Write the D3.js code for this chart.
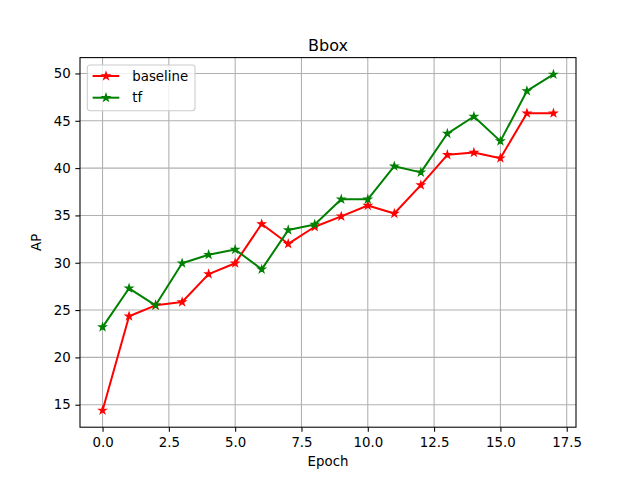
<!DOCTYPE html>
<html>
<head>
<meta charset="utf-8">
<script src="https://cdn.jsdelivr.net/npm/d3@7"></script>
<style>
  body { margin: 0; background: #fff; }
  svg { font-family: 'DejaVu Sans', sans-serif; }
</style>
</head>
<body>
<svg id="chart"></svg>
<script>
const w = 640;
const h = 480;
const margin = { left: 80, right: 64, top: 57.6, bottom: 52.8 };

const epochs = [0, 1, 2, 3, 4, 5, 6, 7, 8, 9, 10, 11, 12, 13, 14, 15, 16, 17];
const baseline = [14.4, 24.35, 25.5, 25.85, 28.8, 29.95, 34.1, 32.0, 33.8, 34.9, 36.05, 35.2, 38.2, 41.4, 41.65, 41.05, 45.8, 45.8];
const tf = [23.2, 27.3, 25.5, 29.95, 30.85, 31.4, 29.3, 33.45, 34.05, 36.7, 36.7, 40.2, 39.55, 43.65, 45.45, 42.85, 48.15, 49.9];
const xTicks = [0, 2.5, 5, 7.5, 10, 12.5, 15, 17.5];
const yTicks = [15, 20, 25, 30, 35, 40, 45, 50];

const series = [
	{ name: 'baseline', values: baseline, color: '#ff0000' },
	{ name: 'tf', values: tf, color: '#008000' },
];

const canvas = d3.select('#chart').attr('width', w).attr('height', h);

const allVals = baseline.concat(tf);
const yMin = d3.min(allVals);
const yMax = d3.max(allVals);
const yPad = (yMax - yMin) * 0.05;
const xPad = (d3.max(epochs) - d3.min(epochs)) * 0.05;

const xScale = d3
	.scaleLinear()
	.domain([d3.min(epochs) - xPad, d3.max(epochs) + xPad])
	.range([margin.left, w - margin.right]);

const yScale = d3
	.scaleLinear()
	.domain([yMin - yPad, yMax + yPad])
	.range([h - margin.bottom, margin.top]);

const tick = 3.5 * 4 / 3;

// grid
const grid = canvas.append('g').attr('stroke', '#b0b0b0').attr('stroke-width', 1.07);
grid.selectAll('.gx')
	.data(xTicks)
	.enter()
	.append('line')
	.attr('x1', (d) => xScale(d))
	.attr('x2', (d) => xScale(d))
	.attr('y1', margin.top)
	.attr('y2', h - margin.bottom);
grid.selectAll('.gy')
	.data(yTicks)
	.enter()
	.append('line')
	.attr('x1', margin.left)
	.attr('x2', w - margin.right)
	.attr('y1', (d) => yScale(d))
	.attr('y2', (d) => yScale(d));

// axes
const xAxis = d3
	.axisBottom(xScale)
	.tickValues(xTicks)
	.tickFormat(d3.format('.1f'))
	.tickSizeInner(tick)
	.tickSizeOuter(0)
	.tickPadding(tick);
const yAxis = d3
	.axisLeft(yScale)
	.tickValues(yTicks)
	.tickFormat(d3.format('d'))
	.tickSizeInner(tick)
	.tickSizeOuter(0)
	.tickPadding(tick);

const gx = canvas.append('g').attr('transform', `translate(0, ${h - margin.bottom})`).call(xAxis);
const gy = canvas.append('g').attr('transform', `translate(${margin.left}, 0)`).call(yAxis);
[gx, gy].forEach((g) => {
	g.select('.domain').remove();
	g.selectAll('line').attr('stroke', '#000').attr('stroke-width', 1.07);
	g.selectAll('text').attr('font-size', 13.33).attr('fill', '#000').attr('font-family', 'DejaVu Sans');
});
gx.selectAll('text').attr('dy', '0.8em');

// frame
canvas
	.append('rect')
	.attr('x', margin.left)
	.attr('y', margin.top)
	.attr('width', w - margin.left - margin.right)
	.attr('height', h - margin.top - margin.bottom)
	.attr('fill', 'none')
	.attr('stroke', '#000')
	.attr('stroke-width', 1.07);

// star marker, matplotlib style
const starPath = (r) => {
	const inner = r * 0.381966;
	let p = '';
	for (let i = 0; i < 10; i++) {
		const rad = i % 2 === 0 ? r : inner;
		const a = (i * Math.PI) / 5 - Math.PI / 2;
		p += (i === 0 ? 'M' : 'L') + (rad * Math.cos(a)).toFixed(3) + ',' + (rad * Math.sin(a)).toFixed(3);
	}
	return p + 'Z';
};

const line = d3
	.line()
	.x((d, i) => xScale(epochs[i]))
	.y((d) => yScale(d));

series.forEach((s) => {
	canvas
		.append('path')
		.attr('d', line(s.values))
		.attr('fill', 'none')
		.attr('stroke', s.color)
		.attr('stroke-width', 2)
		.attr('stroke-linejoin', 'round');
	canvas
		.append('g')
		.selectAll('path')
		.data(s.values)
		.enter()
		.append('path')
		.attr('d', starPath(3.8))
		.attr('transform', (d, i) => `translate(${xScale(epochs[i])},${yScale(d)})`)
		.attr('fill', s.color)
		.attr('stroke', s.color)
		.attr('stroke-width', 1.2)
		.attr('stroke-linejoin', 'miter');
});

// legend
const legend = canvas.append('g').attr('transform', `translate(${margin.left + 7.3}, ${margin.top + 7.4})`);
legend
	.append('rect')
	.attr('width', 107.7)
	.attr('height', 45.7)
	.attr('rx', 2.7)
	.attr('fill', '#fff')
	.attr('fill-opacity', 0.8)
	.attr('stroke', '#cccccc')
	.attr('stroke-width', 1.07);
series.forEach((s, i) => {
	const cy = 11 + i * 21.7;
	legend
		.append('line')
		.attr('x1', 5.3)
		.attr('x2', 32)
		.attr('y1', cy)
		.attr('y2', cy)
		.attr('stroke', s.color)
		.attr('stroke-width', 2);
	legend
		.append('path')
		.attr('d', starPath(3.8))
		.attr('transform', `translate(18.7, ${cy})`)
		.attr('fill', s.color)
		.attr('stroke', s.color)
		.attr('stroke-width', 1.2);
	legend
		.append('text')
		.attr('x', 45)
		.attr('y', cy)
		.attr('dy', '0.35em')
		.attr('font-size', 13.33)
		.text(s.name);
});

// labels
canvas
	.append('text')
	.attr('x', (margin.left + w - margin.right) / 2)
	.attr('y', margin.top - 7)
	.attr('text-anchor', 'middle')
	.attr('font-size', 16)
	.text('Bbox');
canvas
	.append('text')
	.attr('x', (margin.left + w - margin.right) / 2)
	.attr('y', 466)
	.attr('text-anchor', 'middle')
	.attr('font-size', 13.33)
	.text('Epoch');
canvas
	.append('text')
	.attr('text-anchor', 'middle')
	.attr('font-size', 13.33)
	.attr('transform', `translate(41, ${(margin.top + h - margin.bottom) / 2}) rotate(-90)`)
	.text('AP');
</script>
</body>
</html>
